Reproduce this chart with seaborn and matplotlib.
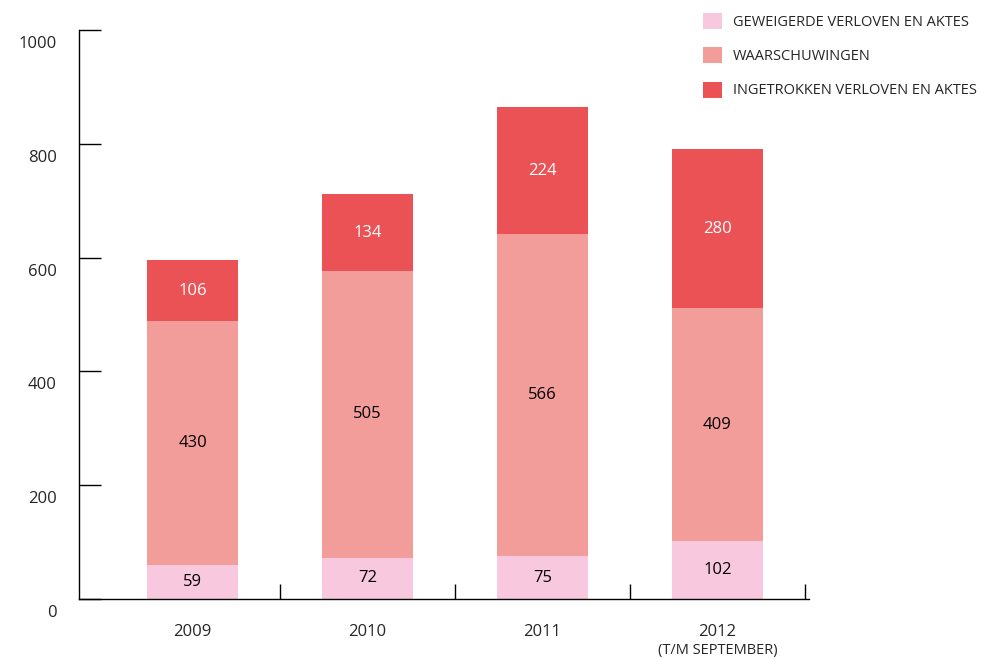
import matplotlib
matplotlib.use("Agg")
import matplotlib.pyplot as plt
import matplotlib.transforms as mtransforms
from matplotlib.patches import Patch
import seaborn as sns
import numpy as np
import pandas as pd

years = ["2009", "2010", "2011", "2012"]
geweigerd = [59, 72, 75, 102]
waarschuwingen = [430, 505, 566, 409]
ingetrokken = [106, 134, 224, 280]

series_names = ["GEWEIGERDE VERLOVEN EN AKTES", "WAARSCHUWINGEN", "INGETROKKEN VERLOVEN EN AKTES"]
colors = ["#F8C8DE", "#F39D9B", "#EB5256"]
text_colors = ["black", "black", "white"]
yticks = [0, 200, 400, 600, 800, 1000]

sns.set_style("white")
plt.rcParams['font.family'] = ['Open Sans', 'DejaVu Sans']

df = pd.DataFrame({"year": years, "g": geweigerd, "w": waarschuwingen, "i": ingetrokken})
df["c1"] = df["g"]
df["c2"] = df["g"] + df["w"]
df["c3"] = df["c2"] + df["i"]

fig = plt.figure(figsize=(9.88, 6.58), dpi=100)
ax = fig.add_axes([0.080, 0.0897, 0.8188 - 0.080, 0.9544 - 0.0897])

# layered bars, tallest first
for col, color in zip(["c3", "c2", "c1"], colors[::-1]):
    sns.barplot(data=df, x="year", y=col, color=color, width=0.52,
                saturation=1, ax=ax, edgecolor="none")

# segment labels
bottoms = np.zeros(len(years))
for vals, tc in zip([geweigerd, waarschuwingen, ingetrokken], text_colors):
    for k, v in enumerate(vals):
        ax.text(k, bottoms[k] + v / 2, str(v), ha="center", va="center",
                fontsize=12, color=tc)
    bottoms += np.array(vals)

ax.set_xlim(-0.649, 3.523)
ax.set_ylim(0, 1000)
ax.set_yticks(yticks)
ax.set_yticklabels([str(t) for t in yticks], fontsize=12)
ax.tick_params(axis="y", direction="in", length=16, width=1, pad=16, color="black", left=True)
# labels sit a bit below their ticks
shift = mtransforms.ScaledTranslation(0, -12 / 100, fig.dpi_scale_trans)
for tick in ax.yaxis.get_major_ticks():
    tick.label1.set_transform(tick.label1.get_transform() + shift)

ax.set_xticks(range(len(years)))
ax.set_xticklabels(["2009", "2010", "2011", "2012"], fontsize=12)
ax.tick_params(axis="x", which="major", length=0, pad=18)
ax.set_xticks([0.5, 1.5, 2.5, 3.5], minor=True)
ax.tick_params(axis="x", which="minor", direction="in", length=11, width=1, color="black", bottom=True)
ax.text(3, -90, "(T/M SEPTEMBER)", ha="center", va="center", fontsize=10.5)

ax.set_xlabel("")
ax.set_ylabel("")
sns.despine(ax=ax, top=True, right=True)
for s in ["left", "bottom"]:
    ax.spines[s].set_color("black")
    ax.spines[s].set_linewidth(1)

handles = [Patch(facecolor=c, edgecolor="none", label=n) for c, n in zip(colors, series_names)]
fig.legend(handles=handles, loc="upper left", bbox_to_anchor=(703 / 988, 1 - 13 / 658),
           frameon=False, fontsize=10.5, handlelength=1.3, handleheight=1.3,
           handletextpad=0.75, labelspacing=1.2, borderpad=0, borderaxespad=0)

fig.savefig("out.png", dpi=100)
